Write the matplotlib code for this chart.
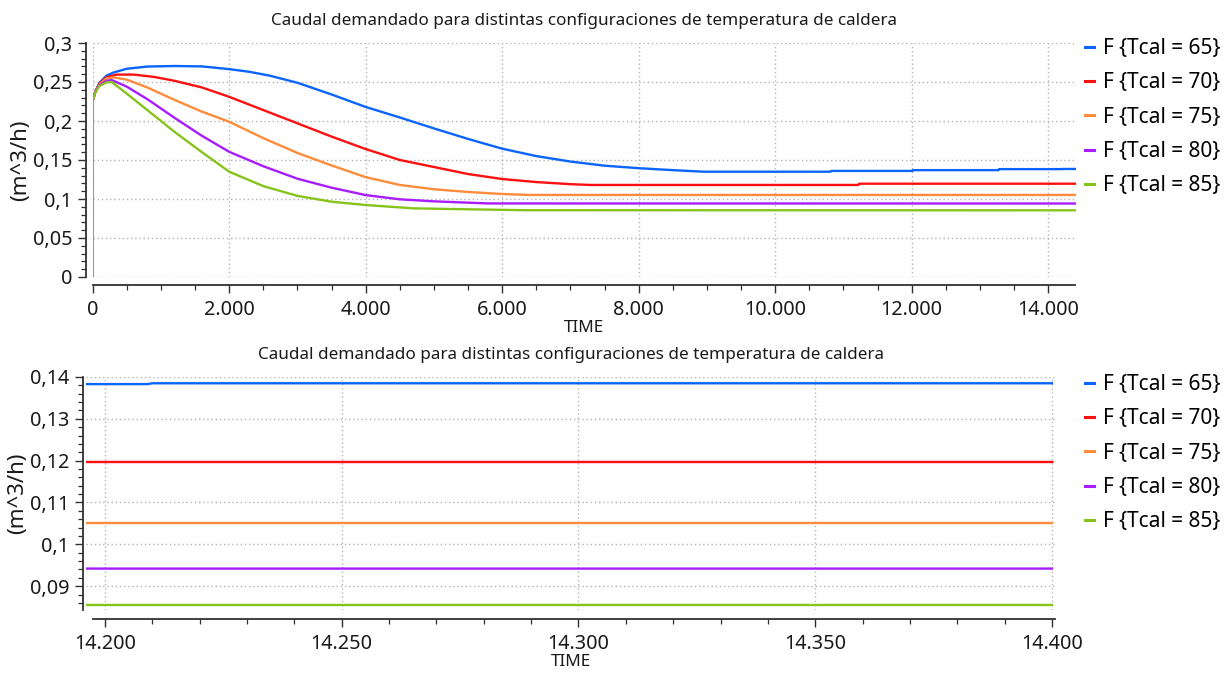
import matplotlib
matplotlib.use("Agg")
import matplotlib.pyplot as plt
from matplotlib.ticker import MultipleLocator, FuncFormatter

# ---- data: demanded flow F (m^3/h) for each boiler temperature setting ----
t_65 = [0, 0, 40, 100, 200, 300, 500, 800, 1200, 1600, 2000, 2300, 2600, 3000,
        3500, 4000, 4500, 5000, 5500, 6000, 6500, 7000, 7500, 8000, 8500, 8950,
        10810, 10820, 12010, 12020, 13270, 13280, 14209, 14210, 14400]
f_65 = [0, 0.226, 0.238, 0.249, 0.258, 0.262, 0.267, 0.2698, 0.2705, 0.2700,
        0.2665, 0.263, 0.258, 0.249, 0.234, 0.218, 0.2045, 0.1905, 0.177, 0.1645,
        0.155, 0.148, 0.1427, 0.1395, 0.137, 0.135, 0.135, 0.136, 0.136, 0.137,
        0.137, 0.1383, 0.1383, 0.1385, 0.1385]

t_70 = [0, 0, 40, 100, 200, 350, 600, 900, 1200, 1600, 2000, 2500, 3000, 3500,
        4000, 4500, 5000, 5500, 6000, 6500, 7000, 7300, 11220, 11230, 14400]
f_70 = [0, 0.226, 0.238, 0.248, 0.256, 0.2595, 0.2595, 0.2565, 0.2515, 0.243,
        0.231, 0.214, 0.197, 0.180, 0.164, 0.150, 0.141, 0.132, 0.1256, 0.1217,
        0.119, 0.118, 0.118, 0.1196, 0.1196]

t_75 = [0, 0, 40, 100, 200, 300, 500, 800, 1200, 1600, 2000, 2500, 3000, 3500,
        4000, 4500, 5000, 5500, 6000, 6400, 14400]
f_75 = [0, 0.226, 0.238, 0.247, 0.2545, 0.256, 0.253, 0.243, 0.227, 0.212, 0.199,
        0.178, 0.159, 0.143, 0.128, 0.118, 0.1125, 0.109, 0.1064, 0.1052, 0.1052]

t_80 = [0, 0, 40, 100, 200, 280, 500, 800, 1200, 1600, 2000, 2500, 3000, 3500,
        4000, 4500, 5000, 5800, 14400]
f_80 = [0, 0.226, 0.238, 0.246, 0.2515, 0.2525, 0.244, 0.228, 0.204, 0.181,
        0.1605, 0.142, 0.126, 0.1145, 0.105, 0.0996, 0.097, 0.0943, 0.0942]

t_85 = [0, 0, 40, 100, 200, 280, 500, 800, 1200, 1600, 2000, 2500, 3000, 3500,
        4000, 4700, 5500, 6350, 14400]
f_85 = [0, 0.226, 0.237, 0.245, 0.2495, 0.250, 0.235, 0.214, 0.186, 0.160, 0.135,
        0.1165, 0.104, 0.0965, 0.0923, 0.088, 0.0868, 0.0856, 0.0855]

series_times = [t_65, t_70, t_75, t_80, t_85]
series_flows = [f_65, f_70, f_75, f_80, f_85]
labels = ["F {Tcal = 65}", "F {Tcal = 70}", "F {Tcal = 75}",
          "F {Tcal = 80}", "F {Tcal = 85}"]
colors = ["#0a64ff", "#ff1010", "#ff8c3a", "#a81cff", "#86c41c"]

title = "Caudal demandado para distintas configuraciones de temperatura de caldera"

# ---- figure layout (pixel based) ----
W, H = 1227, 675
DPI = 100
plt.rcParams["font.family"] = ["Noto Sans", "DejaVu Sans"]
FS_TITLE = 12.3
FS_TICK = 14.3
FS_LEG = 15.0
FS_YLAB = 16.0
fig = plt.figure(figsize=(W / DPI, H / DPI), dpi=DPI)
fig.patch.set_facecolor("white")


def px_axes(left, top, right, bottom):
    return fig.add_axes([left / W, 1 - bottom / H, (right - left) / W, (bottom - top) / H])


def px2pt(p):
    return p * 72.0 / DPI


def comma_fmt(v, pos):
    s = f"{round(v, 4):g}"
    return s.replace(".", ",")


def thousands_fmt(v, pos):
    return f"{int(round(v)):,}".replace(",", ".")


def style_axes(ax, left_off, bottom_off, legend_top_px):
    for side in ("top", "right"):
        ax.spines[side].set_visible(False)
    for side in ("left", "bottom"):
        ax.spines[side].set_color("#303030")
        ax.spines[side].set_linewidth(1.3)
    ax.spines["left"].set_position(("outward", px2pt(left_off)))
    ax.spines["bottom"].set_position(("outward", px2pt(bottom_off)))
    ax.tick_params(which="major", direction="out", length=px2pt(8), width=1.0,
                   color="#303030", labelsize=FS_TICK, labelcolor="#1a1a1a")
    ax.tick_params(axis="x", which="major", pad=5)
    ax.tick_params(axis="y", which="major", pad=4)
    ax.tick_params(which="minor", direction="out", length=px2pt(5), width=0.9,
                   color="#303030")
    ax.grid(True, which="major", color="#b4b4b4", linestyle=(0, (1, 2)), linewidth=1.0)
    ax.set_axisbelow(True)
    ax.set_facecolor("white")
    ax.yaxis.set_major_formatter(FuncFormatter(comma_fmt))
    ax.xaxis.set_major_formatter(FuncFormatter(thousands_fmt))
    ax.set_ylabel("(m^3/h)", fontsize=FS_YLAB, color="#1a1a1a", labelpad=1)
    ax.set_xlabel("TIME", fontsize=FS_TITLE, color="#1a1a1a", labelpad=0)
    ax.set_title(title, fontsize=FS_TITLE, color="#1a1a1a", pad=13)
    leg = ax.legend(loc="upper left",
                    bbox_to_anchor=(1085 / W, 1 - legend_top_px / H),
                    bbox_transform=fig.transFigure, frameon=False,
                    fontsize=FS_LEG, handlelength=0.45, handletextpad=0.4,
                    labelspacing=0.64, borderaxespad=0, borderpad=0)
    for h in leg.legend_handles:
        h.set_linewidth(2.2)
    return leg


# ---- top panel: whole simulation ----
ax1 = px_axes(92.7, 43, 1075.5, 277)
for t, f, lab, c in zip(series_times, series_flows, labels, colors):
    ax1.plot(t, f, color=c, lw=1.7, label=lab)
ax1.set_xlim(0, 14400)
ax1.set_ylim(0, 0.3)
ax1.xaxis.set_major_locator(MultipleLocator(2000))
ax1.xaxis.set_minor_locator(MultipleLocator(500))
ax1.yaxis.set_major_locator(MultipleLocator(0.05))
ax1.yaxis.set_minor_locator(MultipleLocator(0.01))
style_axes(ax1, 7, 8, 38)

# ---- bottom panel: zoom on the final instants ----
ax2 = px_axes(86, 377, 1056.7, 610)
for t, f, lab, c in zip(series_times, series_flows, labels, colors):
    ax2.plot(t, f, color=c, lw=1.7, label=lab)
ax2.set_xlim(14196, 14401)
ax2.set_ylim(0.0843, 0.14)
ax2.xaxis.set_major_locator(MultipleLocator(50))
ax2.xaxis.set_minor_locator(MultipleLocator(10))
ax2.yaxis.set_major_locator(MultipleLocator(0.01))
ax2.yaxis.set_minor_locator(MultipleLocator(0.002))
style_axes(ax2, 3, 9, 374)
ax2.spines["bottom"].set_bounds(14197.4, 14400.6)

fig.savefig("out.png", dpi=DPI, facecolor="white")
